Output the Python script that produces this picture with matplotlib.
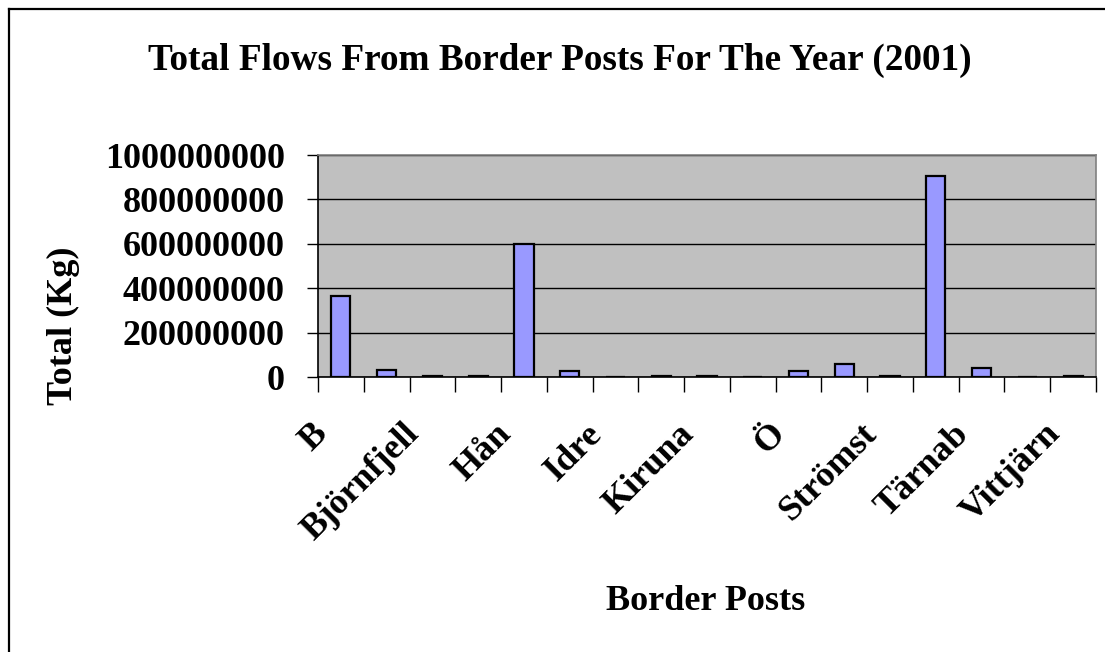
import matplotlib
matplotlib.use("Agg")
import matplotlib.pyplot as plt
from matplotlib.lines import Line2D
from matplotlib.ticker import FixedLocator, NullFormatter
import matplotlib.transforms as mtransforms

# ---- data ----
categories = ["B", "", "Björnfjell", "", "Hån", "", "Idre", "", "Kiruna", "",
              "Ö", "", "Strömst", "", "Tärnab", "", "Vittjärn"]
values = [365e6, 33e6, 5e6, 5e6, 600e6, 25e6, 0, 5e6, 5e6, 0,
          25e6, 58e6, 5e6, 907e6, 42e6, 0, 5e6]
yticks = [0, 200000000, 400000000, 600000000, 800000000, 1000000000]
title = "Total Flows From Border Posts For The Year (2001)"
xlabel = "Border Posts"
ylabel = "Total (Kg)"

W, H = 1105, 652
plt.rcParams['font.family'] = ['Liberation Serif', 'DejaVu Serif']
plt.rcParams['font.weight'] = 'bold'

fig = plt.figure(figsize=(W / 100, H / 100), dpi=100)
left, right, bottom, top = 318, 1096, 377, 155
ax = fig.add_axes([left / W, 1 - bottom / H, (right - left) / W, (bottom - top) / H])
ax.set_facecolor("#C0C0C0")
for s in ax.spines.values():
    s.set_color("#808080")
    s.set_linewidth(1.2)
ax.spines['bottom'].set_color("black")
ax.spines['left'].set_color("black")

n = len(values)
x = list(range(n))
ax.bar(x, values, width=0.42, color="#9999FF", edgecolor="black", linewidth=1.6, zorder=3)
ax.set_xlim(-0.5, n - 0.5)
ax.set_ylim(0, 1e9)

ax.set_yticks(yticks)
ax.set_yticklabels([str(v) for v in yticks], fontsize=26, fontweight='bold')
ax.yaxis.grid(True, color="black", linewidth=1.0, zorder=1)
ax.set_axisbelow(True)
ax.tick_params(axis='y', direction='out', length=8, width=1, color='black', pad=16)

# tick marks at category boundaries, labels at every other category
ax.xaxis.set_minor_locator(FixedLocator([i - 0.5 for i in range(n + 1)]))
ax.xaxis.set_minor_formatter(NullFormatter())
ax.tick_params(axis='x', which='minor', direction='out', length=11, width=1, color='black')
ax.set_xticks([])
lab_tf = (mtransforms.blended_transform_factory(ax.transData, ax.transAxes)
          + mtransforms.ScaledTranslation(-18 / 100, -52 / 100, fig.dpi_scale_trans))
for i, lab in enumerate(categories):
    if lab:
        ax.text(i, 0, lab, transform=lab_tf,
                rotation=45, rotation_mode='anchor', ha='right', va='center',
                fontsize=26, fontweight='bold')

ax.set_ylabel(ylabel, fontsize=26, fontweight='bold')
ax.yaxis.set_label_coords(80 / W, 0.5, transform=fig.transFigure)

fig.text(560 / W, 1 - 60 / H, title, ha='center', va='center', fontsize=26.8, fontweight='bold')
fig.text(706 / W, 1 - 602 / H, xlabel, ha='center', va='center', fontsize=26, fontweight='bold')

# outer frame (top and left visible)
fig.add_artist(Line2D([8.5 / W, 8.5 / W], [0, 1 - 8.5 / H], transform=fig.transFigure, color='black', linewidth=1.6))
fig.add_artist(Line2D([8.5 / W, 1], [1 - 8.5 / H, 1 - 8.5 / H], transform=fig.transFigure, color='black', linewidth=1.6))

fig.savefig("out.png", dpi=100)
